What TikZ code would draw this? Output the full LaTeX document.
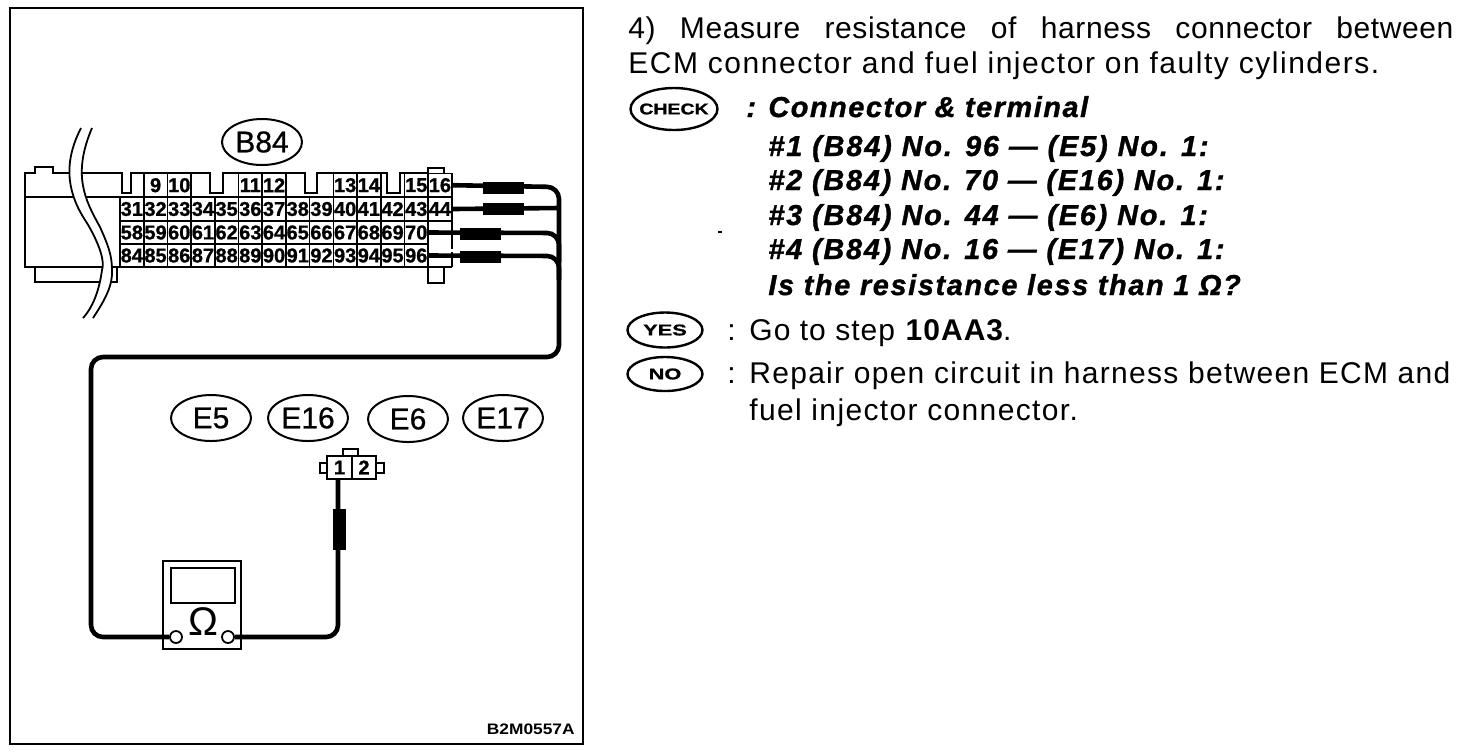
\documentclass[tikz,border=0pt]{standalone}
\usepackage{fontspec}
\setmainfont{Liberation Sans}
\usetikzlibrary{shapes.geometric}
\tikzset{
  ln/.style={draw=black,line width=1.1pt},
  wire/.style={draw=black,line width=2.3pt,rounded corners=6pt},
  sleeve/.style={fill=black,draw=black,line width=0.3pt},
  cell/.style={draw=black,line width=0.8pt,minimum width=11.85pt,minimum height=11.6pt,inner sep=0pt,font=\fontsize{10}{10}\selectfont\bfseries\addfontfeature{FakeBold=1}},
  tag/.style={ellipse,draw=black,line width=1pt,minimum width=40pt,minimum height=23pt,inner sep=0pt,font=\fontsize{15}{15}\selectfont\addfontfeature{FakeBold=0.7}},
  stamp/.style={ellipse,draw=black,line width=1.2pt,inner sep=0pt,font=\fontsize{7.8}{8}\selectfont\bfseries\addfontfeature{FakeBold=1,FakeStretch=1.4}},
  body/.style={anchor=base west,inner sep=0pt,font=\fontsize{15}{16}\selectfont\addfontfeature{LetterSpace=#1}},
  body/.default=4.5,
  bi/.style={anchor=base west,inner sep=0pt,font=\fontsize{14.4}{16}\selectfont\bfseries\itshape\addfontfeature{LetterSpace=#1,FakeBold=1.2}},
  bi/.default=5.4,
}
\begin{document}
\begin{tikzpicture}[x=0.5pt,y=-0.5pt]
\useasboundingbox (0,0) rectangle (1472,752);
\fill[white] (0,0) rectangle (1472,752);
\node[draw=black,line width=1.1pt,minimum width=286.5pt,minimum height=368pt,inner sep=0pt] (frame) at (296.5,376) {};

% connector shell
\draw[ln] (120,197) -- (452,197);
\draw[ln] (120,267) -- (25,267) -- (25,173) -- (35,173) -- (35,167) -- (53,167) -- (53,173) -- (122,173) -- (122,193) -- (131,193) -- (131,173)
  -- (210,173) -- (210,193) -- (223,193) -- (223,173) -- (305,173) -- (305,193) -- (317,193) -- (317,173) -- (387,173) -- (387,193) -- (400,193) -- (400,173) -- (428,173);
\draw[ln] (35,267) -- (35,282) -- (117,282) -- (117,267);
\draw[ln] (25,197) -- (120,197);
\draw[ln] (428,173) -- (428,168) -- (444,168) -- (444,173);
\draw[ln] (428,267) -- (428,283) -- (444,283) -- (444,267);
\draw[ln] (428,267) -- (452,267);
\draw[ln,dash pattern=on 14pt off 1.5pt] (452,221) -- (452,267);
\draw[ln] (428,221) -- (452,221);

% terminal cells
\foreach \n/\c in {9/1,10/2,11/5,12/6,13/9,14/10,15/12,16/13}
  \node[cell] (t\n) at ({131.85+\c*23.7},185.2) {\n};
\foreach \c in {0,...,13}{
  \pgfmathtruncatemacro{\n}{31+\c}
  \node[cell] (t\n) at ({131.85+\c*23.7},209) {\n};}
\foreach \c in {0,...,12}{
  \pgfmathtruncatemacro{\n}{58+\c}
  \node[cell] (t\n) at ({131.85+\c*23.7},232.5) {\n};
  \pgfmathtruncatemacro{\m}{84+\c}
  \node[cell] (t\m) at ({131.85+\c*23.7},255.5) {\m};}

% wavy break
\fill[white] (81,128) .. controls (62,165) and (68,195) .. (87,223) .. controls (100,245) and (105,262) .. (102,270) .. controls (100,285) and (95,305) .. (83,318)
  -- (93,318) .. controls (105,300) and (113,285) .. (112,270) .. controls (112,255) and (108,245) .. (100,227) .. controls (85,200) and (72,175) .. (92,128) -- cycle;
\draw[ln,line width=0.9pt] (81,128) .. controls (62,165) and (68,195) .. (87,223) .. controls (100,245) and (105,262) .. (102,270) .. controls (100,285) and (95,305) .. (83,318);
\draw[ln,line width=0.9pt] (92,128) .. controls (72,175) and (85,200) .. (100,227) .. controls (108,245) and (112,255) .. (112,270) .. controls (113,285) and (105,300) .. (93,318);

% tags
\node[tag] (b84) at (262,142) {B84};
\node[tag] (e5) at (211,418) {E5};
\node[tag] (e16) at (308,418) {E16};
\node[tag] (e6) at (408,419) {E6};
\node[tag] (e17) at (503,418) {E17};

% meter
\node[draw=black,line width=1.1pt,minimum width=39pt,minimum height=44pt,inner sep=0pt] (meter) at (202,605) {};
\node[draw=black,line width=1.1pt,minimum width=32pt,minimum height=17.5pt,inner sep=0pt] (screen) at (203,585.5) {};
\node[font=\fontsize{20}{20}\selectfont,inner sep=0pt] (ohm) at (203,622) {Ω};
\node[circle,draw=black,line width=0.9pt,minimum size=6pt,inner sep=0pt] (jl) at (176,637) {};
\node[circle,draw=black,line width=0.9pt,minimum size=6pt,inner sep=0pt] (jr) at (228,637) {};

% injector connector
\draw[ln] (343,456) -- (343,449) -- (358,449) -- (358,456);
\draw[ln] (327,463) -- (320,463) -- (320,473) -- (327,473);
\draw[ln] (376,463) -- (384,463) -- (384,473) -- (376,473);
\node[draw=black,line width=1.1pt,minimum width=12.5pt,minimum height=11.5pt,inner sep=0pt,font=\fontsize{10}{10}\selectfont\bfseries\addfontfeature{FakeBold=1}] (p1) at (339.5,467.5) {1};
\node[draw=black,line width=1.1pt,minimum width=12pt,minimum height=11.5pt,inner sep=0pt,font=\fontsize{10}{10}\selectfont\bfseries\addfontfeature{FakeBold=1}] (p2) at (364,467.5) {2};

% wires
\coordinate (bus) at (559,357);
\coordinate (j44) at (559,208);
\draw[wire] (t16.east) -- (559,187) -- (bus) -- (91,357) -- (91,637) -- (jl.west);
\draw[wire] (jr.east) -- (338,637) -- (338,478);
\draw[wire,rounded corners=0pt] (t44.east) -- (j44);
\draw[wire] (t70.east) -- (559,233) -- (559,262);
\draw[wire] (t96.east) -- (559,256) -- (559,280);
\node[sleeve,minimum width=20pt,minimum height=5.5pt,inner sep=0pt] (s16) at (503,187.5) {};
\node[sleeve,minimum width=20pt,minimum height=5.5pt,inner sep=0pt] (s44) at (503,208.5) {};
\node[sleeve,minimum width=20pt,minimum height=5.5pt,inner sep=0pt] (s70) at (480,233.5) {};
\node[sleeve,minimum width=20pt,minimum height=5.5pt,inner sep=0pt] (s96) at (480,256.5) {};
\node[sleeve,minimum width=6pt,minimum height=20pt,inner sep=0pt] (s1) at (339,529.5) {};

\node[anchor=base east,inner sep=0pt,font=\fontsize{7.6}{8}\selectfont\bfseries\addfontfeature{FakeStretch=1.14}] (code) at (575,734) {B2M0557A};

% right-hand text
\node[body=2] (l1) at (628,38) {\makebox[412.5pt][s]{4) Measure resistance of harness connector between}};
\node[body=5.1] (l2) at (628,73) {ECM connector and fuel injector on faulty cylinders.};
\node[stamp,inner xsep=-2.5pt,minimum width=43.5pt,minimum height=21pt,font=\fontsize{7.8}{8}\selectfont\bfseries\addfontfeature{FakeBold=1,FakeStretch=1.25}] (check) at (674,109) {CHECK};
\node[bi] (c0) at (746,117) {:};
\node[bi=5.5] (c1) at (768,117) {Connector \& terminal};
\node[bi=6.6] (c2) at (768,156) {\#1 (B84) No. 96 — (E5) No. 1:};
\node[bi=6.3] (c3) at (768,190) {\#2 (B84) No. 70 — (E16) No. 1:};
\node[bi=6.5] (c4) at (768,225) {\#3 (B84) No. 44 — (E6) No. 1:};
\node[bi=6.3] (c5) at (768,259) {\#4 (B84) No. 16 — (E17) No. 1:};
\node[bi=5.8] (c6) at (768,295) {Is the resistance less than 1 Ω?};
\fill (718,231) rectangle (722,232.5);
\node[stamp,minimum width=37.5pt,minimum height=17.5pt] (yes) at (665,330) {YES};
\node[body] (y0) at (727,340) {:};
\node[body=3.5] (y1) at (749,340) {Go to step \textbf{10AA3}.};
\node[stamp,minimum width=37.5pt,minimum height=17pt] (no) at (665,374) {NO};
\node[body] (n0) at (727,383) {:};
\node[body=4.3] (n1) at (749,383) {Repair open circuit in harness between ECM and};
\node[body=4.5] (n2) at (749,420) {fuel injector connector.};
\end{tikzpicture}
\end{document}
